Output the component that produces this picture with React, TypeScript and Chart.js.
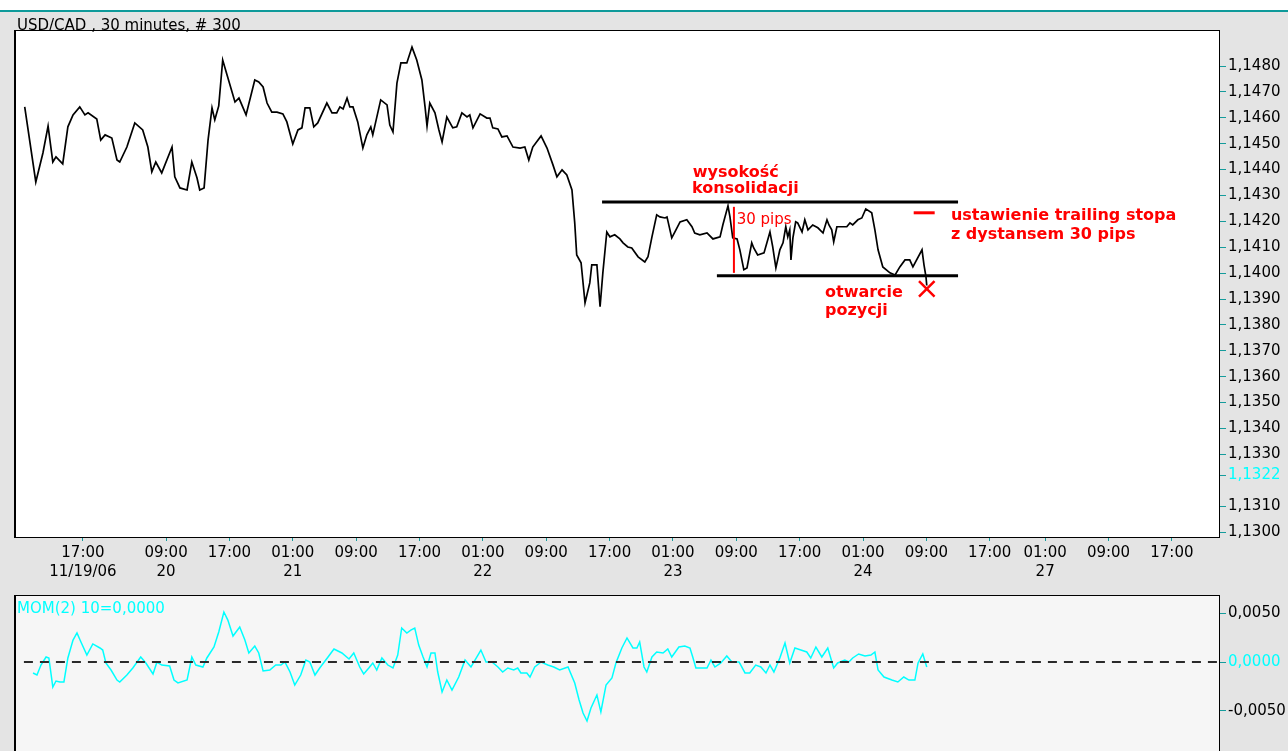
import React, { useEffect, useRef } from 'react';
import { Chart, registerables } from 'chart.js';

Chart.register(...registerables);

const FONT = '"DejaVu Sans", "Liberation Sans", sans-serif';
const TEAL = '#159c9c';
const CYAN = '#00ffff';
const RED = '#ff0000';

const chartTitle = 'USD/CAD , 30 minutes, # 300';
const momTitle = 'MOM(2) 10=0,0000';

// x positions are 30-minute bar numbers counted from the left edge of the chart
const priceBars = [
  2.3, 5.1, 6.9, 8.2, 9.4, 10.2, 11.9, 13.2, 14.5, 16.2,
  17.5, 18.3, 20.5, 21.5, 22.6, 24.3, 25.6, 26.3, 28.1, 30.1,
  32.1, 33.4, 34.4, 35.4, 36.9, 39.5, 40.2, 41.5, 43.3, 44.5,
  45.8, 46.5, 47.6, 48.6, 49.6, 50.3, 51.3, 52.3, 53.4, 55.4,
  56.4, 58.2, 60.4, 61.4, 62.5, 63.5, 64.7, 66.0, 67.5, 68.5,
  70.0, 71.3, 72.3, 73.1, 74.3, 75.3, 76.3, 78.6, 79.9, 81.1,
  81.9, 82.7, 83.7, 84.4, 85.2, 86.4, 87.7, 88.7, 89.7, 90.2,
  92.2, 93.8, 94.5, 95.3, 96.3, 97.3,
  98.8, 100.1, 101.3, 102.6, 103.4, 103.9, 104.6, 105.9, 106.9, 107.7,
  108.9, 110.4, 111.4, 112.7, 114.0, 114.7, 115.5, 117.3, 119.0, 119.8,
  120.5, 121.8, 122.8, 124.1, 125.6, 127.4, 128.6, 129.6, 130.6, 132.7,
  134.2, 135.7, 136.7, 138.0,
  139.2, 140.5, 141.2, 141.7, 142.8, 143.8, 145.0, 145.5, 146.8, 147.6,
  148.3, 149.3, 150.1, 151.3, 152.6, 153.4, 154.6, 155.6, 157.2, 158.9,
  159.7, 160.7, 161.9, 162.7, 164.0, 164.5, 165.7, 166.5, 167.8, 169.5,
  170.8, 171.5, 172.8, 174.6, 176.1, 177.9, 178.6, 179.9, 180.4, 181.1,
  182.2, 182.9, 183.9, 184.7, 185.9, 186.4, 187.4, 189.0, 190.5, 191.2,
  192.0, 193.0, 193.8, 194.5, 195.0, 195.5, 195.8, 196.3, 197.0, 197.5,
  198.6, 199.3, 200.1, 201.3, 202.6, 203.9, 204.9, 205.4, 206.1, 206.6,
  207.4, 208.7, 209.9, 210.7, 211.4, 212.7, 213.7, 214.7, 216.2, 217.0,
  217.8, 219.0, 220.8, 222.1, 223.3, 224.6, 225.8, 226.6, 228.9, 229.4,
  229.9, 230.1,
];

const priceValues = [
  1.14642, 1.14352, 1.14464, 1.14568, 1.14429, 1.14449, 1.14422, 1.14565, 1.14611, 1.14642,
  1.14611, 1.14619, 1.14595, 1.14514, 1.14534, 1.14522, 1.14437, 1.14429, 1.14487, 1.1458,
  1.14553, 1.14487, 1.14391, 1.14429, 1.14387, 1.14487, 1.14372, 1.14329, 1.14321, 1.14429,
  1.14368, 1.14321, 1.14329, 1.14514, 1.14638, 1.14592, 1.14646, 1.14823, 1.14765, 1.14661,
  1.14676, 1.14611, 1.14746, 1.14738, 1.14719, 1.14657, 1.14622, 1.14622, 1.14615, 1.14584,
  1.14499, 1.14553, 1.14561, 1.14638, 1.14638, 1.14565, 1.1458, 1.14657, 1.14619, 1.14619,
  1.14642, 1.14634, 1.14676, 1.14642, 1.14642, 1.14584, 1.14483, 1.14534, 1.14565, 1.14534,
  1.14669, 1.1465, 1.14572, 1.14545, 1.14734, 1.14812,
  1.14812, 1.14873, 1.14823, 1.14746, 1.14642, 1.14568, 1.14657, 1.14619, 1.14553, 1.14507,
  1.14603, 1.14561, 1.14565, 1.14619, 1.14603, 1.14611, 1.14561, 1.14615, 1.14599, 1.14599,
  1.14561, 1.14557, 1.14526, 1.1453, 1.14487, 1.14483, 1.14487, 1.14437, 1.14487, 1.1453,
  1.14483, 1.14418, 1.14372, 1.14399,
  1.14379, 1.14321, 1.14194, 1.1407, 1.1404, 1.13885, 1.13962, 1.14032, 1.14032, 1.1387,
  1.14001, 1.14159, 1.1414, 1.14148, 1.14132, 1.14117, 1.14101, 1.14097, 1.14063, 1.14043,
  1.14063, 1.1414, 1.14225, 1.14217, 1.14213, 1.14217, 1.14136, 1.14159, 1.14198, 1.14206,
  1.14179, 1.14155, 1.14148, 1.14155, 1.14132, 1.1414, 1.14186, 1.1426, 1.14217, 1.14136,
  1.14132, 1.1409, 1.14013, 1.1402, 1.14117, 1.14097, 1.1407, 1.14078, 1.14159, 1.14101,
  1.1402, 1.1409, 1.14117, 1.14179, 1.1414, 1.14167, 1.14051, 1.14136, 1.14198, 1.14194,
  1.14159, 1.14206, 1.14167, 1.14186, 1.14175, 1.14155, 1.14206, 1.14186, 1.14167, 1.14121,
  1.14179, 1.14179, 1.14179, 1.14194, 1.14186, 1.14206, 1.14213, 1.14248, 1.14233, 1.14167,
  1.1409, 1.14024, 1.14001, 1.13993, 1.14024, 1.14051, 1.14051, 1.14024, 1.1409, 1.14032,
  1.13986, 1.13952,
];

const momBars = [
  4.4, 5.4, 6.4, 7.7, 8.4, 9.4, 10.2, 11.2, 12.2, 13.2,
  14.5, 15.5, 16.5, 18.0, 19.5, 21.3, 22.0, 22.8, 24.1, 25.6,
  26.3, 28.1, 29.6, 31.6, 32.9, 34.7, 35.7, 36.9, 38.9, 40.0,
  41.0, 43.3, 44.5, 45.5, 47.3, 48.3, 50.1, 51.3, 52.6, 53.6,
  54.9, 56.6, 57.9, 58.9, 60.4, 61.4, 62.5, 64.2, 65.7, 67.0,
  68.0, 69.3, 70.5, 72.0, 73.3, 74.3, 75.6, 76.8, 78.9, 80.4,
  82.4, 84.2, 85.4, 86.9, 87.9, 89.2, 90.2, 91.2, 92.5, 94.0,
  95.3, 96.5, 97.5, 98.8, 99.8, 100.8, 101.8, 102.9, 103.9, 104.9,
  105.9, 106.6, 107.7, 108.9, 110.2, 111.9, 113.5, 115.0, 116.2, 117.5,
  118.8, 120.3, 121.8, 123.0, 124.3, 125.8, 126.8, 127.6, 129.1, 129.9,
  131.1, 132.7, 134.4, 135.9, 137.4, 139.5, 141.2, 142.3, 143.3, 144.3,
  145.3, 146.8, 147.8, 149.1, 150.6, 151.6, 153.1, 154.4, 155.9, 156.9,
  157.6, 158.7, 159.4, 160.7, 161.9, 163.5, 164.7, 165.7, 167.5, 169.0,
  170.3, 171.0, 171.8, 173.3, 174.6, 175.6, 176.6, 178.1, 179.6, 180.9,
  182.7, 184.2, 185.4, 186.9, 188.2, 189.5, 190.5, 191.5, 193.0, 194.3,
  195.5, 196.8, 198.3, 199.8, 200.8, 202.1, 203.6, 205.1, 206.6, 207.6,
  209.4, 210.4, 211.4, 212.9, 214.5, 216.0, 217.0, 217.8, 219.3, 221.3,
  222.8, 224.3, 225.6, 227.1, 227.9, 229.1, 230.1,
];

const momValues = [
  -0.00112, -0.00133, -0.00031, 0.00051, 0.00041, -0.00255, -0.00194, -0.00204, -0.00204, 0.00041,
  0.00224, 0.00296, 0.00204, 0.00071, 0.00184, 0.00143, 0.00122, -0.0001, -0.00082, -0.00184,
  -0.00204, -0.00133, -0.00061, 0.00051, -0.0001, -0.00122, 0, -0.00031, -0.00041, -0.00184,
  -0.00214, -0.00184, 0.00051, -0.00031, -0.00051, 0.00041, 0.00153, 0.00306, 0.0051, 0.00428,
  0.00265, 0.00357, 0.00224, 0.00092, 0.00163, 0.00092, -0.00092, -0.00082, -0.00031, -0.00031,
  0, -0.00102, -0.00235, -0.00133, 0.0002, 0, -0.00133, -0.00061, 0.00051, 0.00133,
  0.00092, 0.00031, 0.00092, -0.00051, -0.00122, -0.00061, -0.0001, -0.00082, 0.00041, -0.00031,
  -0.00061, 0.00071, 0.00347, 0.00296, 0.00326, 0.00347, 0.00173, 0.00051, -0.00051, 0.00092,
  0.00092, -0.00102, -0.00306, -0.00184, -0.00286, -0.00153, 0.0002, -0.00051, 0.00031, 0.00122,
  0, 0, -0.00051, -0.00102, -0.00061, -0.00082, -0.00061, -0.00112, -0.00112, -0.00153,
  -0.00051, 0, -0.00031, -0.00051, -0.00082, -0.00051, -0.00214, -0.00388, -0.0052, -0.00602,
  -0.00469, -0.00337, -0.0051, -0.00235, -0.00163, -0.0001, 0.00143, 0.00245, 0.00143, 0.00143,
  0.00204, -0.00051, -0.00102, 0.00051, 0.00102, 0.00092, 0.00133, 0.00051, 0.00153, 0.00163,
  0.00143, 0.00051, -0.00061, -0.00061, -0.00061, 0.0002, -0.00051, -0.0001, 0.00061, 0,
  0, -0.00112, -0.00112, -0.00031, -0.00051, -0.00112, -0.00031, -0.00102, 0.00041, 0.00194,
  -0.0001, 0.00143, 0.00122, 0.00102, 0.00041, 0.00153, 0.00051, 0.00143, -0.00061, -0.0001,
  0.0002, 0, 0.00041, 0.00082, 0.00061, 0.00071, 0.00102, -0.00082, -0.00153, -0.00184,
  -0.00204, -0.00153, -0.00184, -0.00184, -0.0001, 0.00082, -0.00051,
];

const priceTickValues = [
  1.148, 1.147, 1.146, 1.145, 1.144, 1.143, 1.142, 1.141, 1.14, 1.139,
  1.138, 1.137, 1.136, 1.135, 1.134, 1.133, 1.1322, 1.131, 1.13,
];
const lastPriceMarker = 1.1322;
const momTickValues = [0.005, 0, -0.005];
const lastMomMarker = 0;

const timeTickBars = [17, 38, 54, 70, 86, 102, 118, 134, 150, 166, 182, 198, 214, 230, 246, 260, 276, 292];
const timeTickLabels = [
  '17:00', '09:00', '17:00', '01:00', '09:00', '17:00', '01:00', '09:00', '17:00',
  '01:00', '09:00', '17:00', '01:00', '09:00', '17:00', '01:00', '09:00', '17:00',
];
const dateTickLabels = ['11/19/06', '20', '', '21', '', '', '22', '', '', '23', '', '', '24', '', '', '27', '', ''];

// consolidation annotation (bar numbers / prices)
const consolidationHigh = 1.14275;
const consolidationLow = 1.1399;
const highLineBars = [148.1, 238.0];
const lowLineBars = [177.1, 238.0];
const pipsBar = 181.4;
const pipsRange = [1.14001, 1.14256];
const stopBars = [226.8, 232.1];
const stopPrice = 1.14233;
const entryBar = 230.1;
const entryPrice = 1.13939;

const noteTexts = ['wysokość', 'konsolidacji', '30 pips', 'ustawienie trailing stopa', 'z dystansem 30 pips', 'otwarcie', 'pozycji'];
const noteBars = [171.0, 170.8, 182.1, 236.2, 236.2, 204.4, 204.4];
const notePrices = [1.14372, 1.14308, 1.1419, 1.14207, 1.1413, 1.13908, 1.13839];
const noteBold = [true, true, false, true, true, true, true];

const X_MIN = 0.1;
const X_MAX = 303.9;

const fmt = (v: number) => (Math.abs(v) < 1e-12 ? 0 : v).toFixed(4).replace('.', ',');

function panelPlugin(bg: string, title: string, titleColor: string, titleY: number, bottomBorder: boolean) {
  return {
    id: 'panelFrame',
    beforeDraw(chart: any) {
      const { ctx, chartArea: a } = chart;
      ctx.save();
      ctx.fillStyle = bg;
      ctx.fillRect(a.left, a.top, a.right - a.left, a.bottom - a.top);
      ctx.restore();
    },
    afterDraw(chart: any) {
      const { ctx, chartArea: a } = chart;
      ctx.save();
      ctx.fillStyle = '#000';
      ctx.fillRect(a.left - 2, a.top - 1, a.right - a.left + 3, 1);
      ctx.fillRect(a.left - 2, a.top - 1, 2, a.bottom - a.top + 2);
      ctx.fillRect(a.right, a.top - 1, 1, a.bottom - a.top + 2);
      if (bottomBorder) ctx.fillRect(a.left - 2, a.bottom, a.right - a.left + 3, 1);
      ctx.fillStyle = titleColor;
      ctx.font = `15px ${FONT}`;
      ctx.textBaseline = 'alphabetic';
      ctx.textAlign = 'left';
      ctx.fillText(title, a.left + 1, titleY);
      ctx.restore();
    },
  };
}

const notesPlugin = {
  id: 'notes',
  afterDatasetsDraw(chart: any) {
    const { ctx, scales } = chart;
    ctx.save();
    ctx.fillStyle = RED;
    ctx.textBaseline = 'alphabetic';
    ctx.textAlign = 'left';
    noteTexts.forEach((t, i) => {
      ctx.font = noteBold[i] ? `bold 16px ${FONT}` : `15px ${FONT}`;
      ctx.fillText(t, scales.x.getPixelForValue(noteBars[i]), scales.y.getPixelForValue(notePrices[i]));
    });
    ctx.restore();
  },
};

const line = (pts: { x: number; y: number }[], color: string, width: number, order: number, extra: any = {}) => ({
  data: pts,
  borderColor: color,
  backgroundColor: color,
  borderWidth: width,
  pointRadius: 0,
  borderCapStyle: 'butt',
  fill: false,
  order,
  ...extra,
});

function topConfig(): any {
  return {
    type: 'line',
    data: {
      datasets: [
        line(priceBars.map((x, i) => ({ x, y: priceValues[i] })), '#000', 1.7, 2),
        line(highLineBars.map((x) => ({ x, y: consolidationHigh })), '#000', 3, 1),
        line(lowLineBars.map((x) => ({ x, y: consolidationLow })), '#000', 3, 1),
        line(pipsRange.map((y) => ({ x: pipsBar, y })), RED, 2, 1),
        line(stopBars.map((x) => ({ x, y: stopPrice })), RED, 3, 1),
        {
          data: [{ x: entryBar, y: entryPrice }],
          showLine: false,
          pointStyle: 'crossRot',
          pointRadius: 11,
          pointBorderWidth: 2.5,
          pointBorderColor: RED,
          pointBackgroundColor: RED,
          borderColor: RED,
          order: 0,
        },
      ],
    },
    options: {
      animation: false,
      responsive: false,
      events: [],
      layout: { padding: { left: 16, top: 31, right: 0, bottom: 0 } },
      plugins: { legend: { display: false }, tooltip: { enabled: false } },
      elements: { line: { tension: 0 } },
      scales: {
        x: {
          type: 'linear',
          position: 'bottom',
          min: X_MIN,
          max: X_MAX,
          afterBuildTicks: (s: any) => {
            s.ticks = timeTickBars.map((v) => ({ value: v }));
          },
          afterFit: (s: any) => {
            s.height = 53;
            s.paddingLeft = 0;
            s.paddingRight = 0;
          },
          grid: { display: true, drawOnChartArea: false, drawTicks: true, tickLength: 4, color: TEAL, lineWidth: 1 },
          border: { display: false },
          ticks: {
            autoSkip: false,
            maxRotation: 0,
            minRotation: 0,
            padding: 3,
            color: '#000',
            font: { family: FONT, size: 15, lineHeight: 1.23 },
            callback: (v: number) => {
              const i = timeTickBars.indexOf(v);
              return i < 0 ? '' : [timeTickLabels[i], dateTickLabels[i]];
            },
          },
        },
        y: {
          type: 'linear',
          position: 'right',
          min: 1.129807,
          max: 1.149352,
          afterBuildTicks: (s: any) => {
            s.ticks = priceTickValues.map((v) => ({ value: v }));
          },
          afterFit: (s: any) => {
            s.width = 69;
            s.paddingTop = 0;
            s.paddingBottom = 0;
          },
          grid: { display: true, drawOnChartArea: false, drawTicks: true, tickLength: 7, color: TEAL, lineWidth: 1 },
          border: { display: false },
          ticks: {
            padding: 2,
            autoSkip: false,
            color: (c: any) => (c.tick && c.tick.value === lastPriceMarker ? CYAN : '#000'),
            font: { family: FONT, size: 15 },
            callback: (v: number) => fmt(v),
          },
        },
      },
    },
    plugins: [panelPlugin('#ffffff', chartTitle, '#000', 29.5, true), notesPlugin],
  };
}

function bottomConfig(): any {
  return {
    type: 'line',
    data: {
      datasets: [
        line([{ x: 2.1, y: 0 }, { x: X_MAX, y: 0 }], '#2a2a2a', 2, 0, { borderDash: [9, 7] }),
        line(momBars.map((x, i) => ({ x, y: momValues[i] })), CYAN, 1.5, 1),
      ],
    },
    options: {
      animation: false,
      responsive: false,
      events: [],
      layout: { padding: { left: 16, top: 6, right: 0, bottom: 0 } },
      plugins: { legend: { display: false }, tooltip: { enabled: false } },
      elements: { line: { tension: 0 } },
      scales: {
        x: { type: 'linear', display: false, min: X_MIN, max: X_MAX },
        y: {
          type: 'linear',
          position: 'right',
          min: -0.009082,
          max: 0.006735,
          afterBuildTicks: (s: any) => {
            s.ticks = momTickValues.map((v) => ({ value: v }));
          },
          afterFit: (s: any) => {
            s.width = 69;
            s.paddingTop = 0;
            s.paddingBottom = 0;
          },
          grid: { display: true, drawOnChartArea: false, drawTicks: true, tickLength: 7, color: TEAL, lineWidth: 1 },
          border: { display: false },
          ticks: {
            padding: 2,
            autoSkip: false,
            color: (c: any) => (c.tick && c.tick.value === lastMomMarker ? CYAN : '#000'),
            font: { family: FONT, size: 15 },
            callback: (v: number) => fmt(v),
          },
        },
      },
    },
    plugins: [panelPlugin('#f6f6f6', momTitle, CYAN, 23, false)],
  };
}

export default function App() {
  const topRef = useRef<HTMLCanvasElement>(null);
  const botRef = useRef<HTMLCanvasElement>(null);

  useEffect(() => {
    const top = new Chart(topRef.current as HTMLCanvasElement, topConfig());
    const bot = new Chart(botRef.current as HTMLCanvasElement, bottomConfig());
    return () => {
      top.destroy();
      bot.destroy();
    };
  }, []);

  return (
    <div style={{ position: 'fixed', left: 0, top: 0, width: 1288, height: 751, background: '#e4e4e4', overflow: 'hidden' }}>
      <div style={{ position: 'absolute', left: 0, top: 0, width: 1288, height: 10, background: '#ffffff' }} />
      <div style={{ position: 'absolute', left: 0, top: 10, width: 1288, height: 2, background: '#0e9a9a' }} />
      <canvas ref={topRef} width={1288} height={590} style={{ position: 'absolute', left: 0, top: 0, width: 1288, height: 590 }} />
      <canvas ref={botRef} width={1288} height={161} style={{ position: 'absolute', left: 0, top: 590, width: 1288, height: 161 }} />
    </div>
  );
}
